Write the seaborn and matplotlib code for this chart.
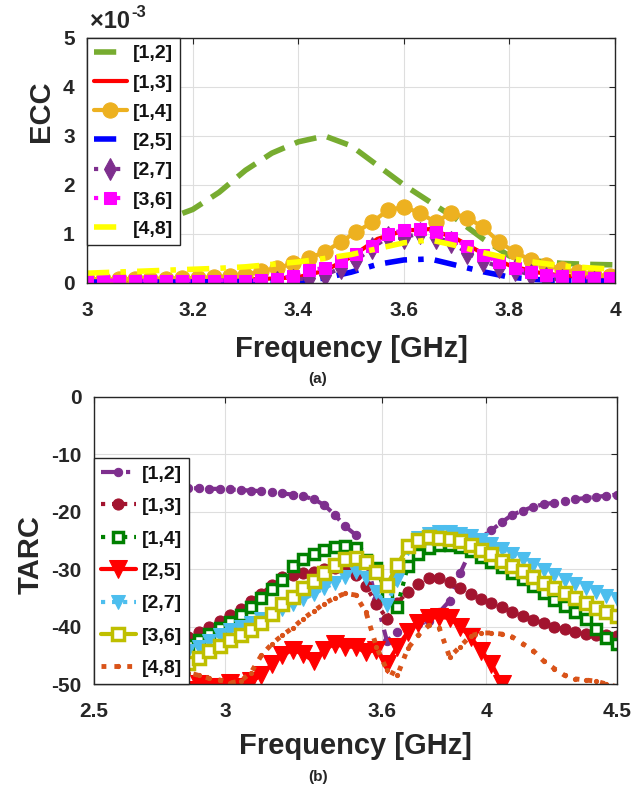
import numpy as np
import matplotlib
matplotlib.use('Agg')
import matplotlib.pyplot as plt
import seaborn as sns

# ---------------- (a) ECC data, values in units of 1e-3 ----------------
ecc_labels = ['[1,2]', '[1,3]', '[1,4]', '[2,5]', '[2,7]', '[3,6]', '[4,8]']

ecc_freq = [3.00, 3.05, 3.10, 3.15, 3.20, 3.25, 3.30, 3.35, 3.40, 3.45, 3.50,
            3.55, 3.60, 3.65, 3.70, 3.75, 3.80, 3.85, 3.90, 3.95, 4.00]
ecc_12 = [0.80, 0.95, 1.12, 1.30, 1.50, 1.85, 2.30, 2.65, 2.88, 3.00, 2.80,
          2.40, 2.00, 1.65, 1.30, 0.90, 0.55, 0.45, 0.40, 0.38, 0.37]
ecc_13 = [0.05, 0.05, 0.05, 0.05, 0.05, 0.06, 0.07, 0.09, 0.12, 0.25, 0.53,
          0.90, 1.07, 1.10, 0.90, 0.60, 0.36, 0.22, 0.15, 0.12, 0.10]
ecc_25 = [0.02, 0.02, 0.02, 0.02, 0.02, 0.03, 0.03, 0.03, 0.04, 0.10, 0.22,
          0.38, 0.47, 0.49, 0.36, 0.23, 0.12, 0.07, 0.05, 0.04, 0.04]
ecc_48 = [0.20, 0.22, 0.24, 0.26, 0.28, 0.30, 0.33, 0.38, 0.43, 0.50, 0.58,
          0.70, 0.82, 0.88, 0.76, 0.62, 0.50, 0.42, 0.35, 0.31, 0.28]

# marker series sampled more densely
ecc_freq_m = [3.00, 3.03, 3.06, 3.09, 3.12, 3.15, 3.18, 3.21, 3.24, 3.27, 3.30,
              3.33, 3.36, 3.39, 3.42, 3.45, 3.48, 3.51, 3.54, 3.57, 3.60, 3.63,
              3.66, 3.69, 3.72, 3.75, 3.78, 3.81, 3.84, 3.87, 3.90, 3.93, 3.96, 3.99]
ecc_14 = [0.08, 0.08, 0.08, 0.08, 0.09, 0.09, 0.10, 0.10, 0.12, 0.14, 0.16,
          0.25, 0.30, 0.40, 0.51, 0.63, 0.84, 1.04, 1.24, 1.49, 1.55, 1.43,
          1.24, 1.43, 1.33, 1.14, 0.84, 0.63, 0.47, 0.37, 0.28, 0.22, 0.17, 0.14]
ecc_36 = [0.05, 0.05, 0.05, 0.05, 0.05, 0.05, 0.05, 0.05, 0.05, 0.05, 0.05,
          0.06, 0.08, 0.15, 0.27, 0.30, 0.45, 0.60, 0.75, 1.00, 1.08, 1.10,
          1.05, 0.92, 0.75, 0.58, 0.42, 0.30, 0.22, 0.17, 0.14, 0.12, 0.11, 0.10]
ecc_freq_27 = [3.36, 3.39, 3.42, 3.45, 3.48, 3.51, 3.54, 3.57, 3.60, 3.63, 3.66,
               3.69, 3.72, 3.75, 3.78, 3.81, 3.84, 3.87, 3.90, 3.93, 3.96]
ecc_27 = [0.02, 0.06, 0.10, 0.16, 0.30, 0.47, 0.71, 0.94, 0.92, 1.02, 0.92,
          0.84, 0.61, 0.45, 0.33, 0.27, 0.16, 0.10, 0.06, 0.03, 0.03]

# ---------------- (b) TARC data, dB ----------------
tarc_labels = ['[1,2]', '[1,3]', '[1,4]', '[2,5]', '[2,7]', '[3,6]', '[4,8]']
tarc_freq = [2.50, 2.54, 2.58, 2.62, 2.66, 2.70, 2.74, 2.78, 2.82, 2.86, 2.90,
             2.94, 2.98, 3.02, 3.06, 3.10, 3.14, 3.18, 3.22, 3.26, 3.30, 3.34,
             3.38, 3.42, 3.46, 3.50, 3.54, 3.58, 3.62, 3.66, 3.70, 3.74, 3.78,
             3.82, 3.86, 3.90, 3.94, 3.98, 4.02, 4.06, 4.10, 4.14, 4.18, 4.22,
             4.26, 4.30, 4.34, 4.38, 4.42, 4.46, 4.50]
tarc_12 = [-15.6, -15.6, -15.7, -15.7, -15.7, -15.8, -15.8, -15.8, -15.9, -15.9, -15.9,
           -16.0, -16.0, -16.1, -16.2, -16.3, -16.4, -16.6, -16.8, -17.0, -17.3, -17.8,
           -18.8, -20.5, -22.5, -24.0, -28.5, -35.4, -42.5, -41.0, -40.2, -39.6, -39.0,
           -37.5, -35.5, -30.7, -26.8, -24.5, -23.2, -21.8, -20.5, -19.8, -19.1, -18.7,
           -18.4, -18.1, -17.8, -17.6, -17.4, -17.2, -17.0]
tarc_13 = [-47.0, -46.5, -46.0, -45.3, -44.6, -44.0, -43.4, -42.8, -42.2, -41.8, -40.9,
           -40.0, -39.1, -38.0, -37.0, -35.6, -34.3, -32.8, -31.4, -31.0, -30.7, -30.4,
           -30.0, -29.8, -29.8, -31.0, -33.0, -36.0, -38.6, -35.8, -34.0, -32.5, -31.6,
           -31.6, -32.3, -33.2, -34.3, -35.2, -35.9, -36.6, -37.4, -38.1, -38.8, -39.4,
           -40.0, -40.5, -40.9, -41.2, -41.4, -41.5, -41.7]
tarc_14 = [-50.0, -49.5, -49.0, -48.3, -47.6, -47.0, -46.3, -45.5, -44.5, -43.2, -42.3,
           -41.3, -40.3, -39.2, -38.0, -36.6, -35.0, -33.4, -31.9, -29.5, -28.2, -27.3,
           -26.6, -26.1, -25.9, -26.3, -28.4, -29.8, -34.5, -36.5, -29.5, -27.3, -26.3,
           -25.8, -25.8, -26.2, -26.8, -27.8, -28.7, -29.6, -30.6, -31.7, -32.9, -34.1,
           -35.3, -36.4, -37.4, -38.6, -40.5, -42.0, -43.0]
tarc_25 = [-52.0, -52.0, -52.0, -51.0, -51.5, -52.0, -52.0, -52.0, -51.5, -51.0, -50.0,
           -50.5, -50.5, -49.8, -50.5, -49.5, -48.5, -46.5, -45.0, -44.0, -44.8, -46.0,
           -44.0, -43.0, -43.5, -43.5, -44.5, -44.0, -46.5, -43.5, -41.0, -39.3, -38.5,
           -38.3, -38.5, -40.0, -41.8, -44.2, -46.5, -50.0, np.nan, np.nan, np.nan, np.nan,
           np.nan, np.nan, np.nan, np.nan, np.nan, np.nan, np.nan]
tarc_27 = [-50.5, -50.0, -49.5, -49.0, -48.4, -47.8, -47.1, -46.3, -45.4, -44.3, -43.6,
           -42.5, -41.4, -40.6, -40.0, -39.3, -38.6, -37.8, -37.0, -36.0, -35.2, -34.3,
           -33.3, -32.4, -31.4, -30.5, -31.5, -34.0, -36.2, -31.8, -26.3, -24.5, -23.8,
           -23.5, -23.5, -23.8, -24.2, -24.9, -25.6, -26.5, -27.4, -28.3, -29.2, -30.1,
           -31.0, -31.8, -32.6, -33.3, -34.0, -34.6, -35.2]
tarc_36 = [-53.0, -52.4, -51.8, -51.0, -50.3, -49.6, -48.8, -48.0, -47.2, -46.4, -45.5,
           -44.3, -43.3, -42.4, -41.5, -40.6, -39.4, -37.8, -36.0, -34.8, -33.3, -32.0,
           -30.6, -29.3, -28.3, -28.0, -28.8, -30.4, -32.8, -29.3, -26.0, -24.9, -24.4,
           -24.5, -24.7, -25.1, -25.8, -26.6, -27.4, -28.5, -29.4, -30.3, -31.4, -32.4,
           -33.3, -34.1, -35.0, -35.9, -36.8, -37.5, -38.2]
tarc_48 = [-52.0, -51.0, -50.5, -50.0, -49.5, -49.0, -48.5, -48.2, -48.0, -48.0, -48.5,
           -49.0, -49.3, -49.8, -49.5, -48.0, -45.0, -43.0, -41.5, -40.2, -38.6, -37.3,
           -36.0, -35.0, -34.2, -34.5, -37.5, -43.5, -47.6, -48.5, -43.8, -41.5, -39.8,
           -40.2, -45.3, -43.5, -41.6, -41.1, -41.1, -41.3, -41.8, -43.0, -44.2, -46.0,
           -47.3, -48.5, -49.1, -49.3, -49.5, -50.0, -50.5]

sns.set_theme(style='white')
plt.rcParams['font.family'] = ['Liberation Sans', 'DejaVu Sans']
plt.rcParams['font.weight'] = 'bold'
plt.rcParams['axes.unicode_minus'] = False

fig = plt.figure(figsize=(6.36, 7.94), dpi=100)
ax1 = fig.add_axes([0.137, 0.6436, 0.830, 0.3086])
ax2 = fig.add_axes([0.148, 0.1385, 0.822, 0.3615])

grid_kw = dict(color='#dedede', linewidth=0.8)

#---- plot (a)
sns.lineplot(x=ecc_freq, y=ecc_12, ax=ax1, color='#77AC30', linestyle=(0, (4, 2)),
             linewidth=4, label=ecc_labels[0])
sns.lineplot(x=ecc_freq, y=ecc_13, ax=ax1, color='#FF0000', linestyle='-',
             linewidth=3, label=ecc_labels[1])
sns.lineplot(x=ecc_freq_m, y=ecc_14, ax=ax1, color='#EDB120', linestyle='-',
             linewidth=3, marker='o', markersize=11, markerfacecolor='#EDB120',
             markeredgecolor='#EDB120', label=ecc_labels[2])
sns.lineplot(x=ecc_freq, y=ecc_25, ax=ax1, color='#0000FF', linestyle=(0, (4, 2, 1, 2)),
             linewidth=4, label=ecc_labels[3])
sns.lineplot(x=ecc_freq_27, y=ecc_27, ax=ax1, color='#7E2F8E', linestyle=':',
             linewidth=3, marker='d', markersize=11, markeredgecolor='#7E2F8E',
             label=ecc_labels[4])
sns.lineplot(x=ecc_freq_m, y=ecc_36, ax=ax1, color='#FF00FF', linestyle=':',
             linewidth=3, marker='s', markersize=9, markerfacecolor='#FF00FF',
             markeredgecolor='#FF00FF', label=ecc_labels[5])
sns.lineplot(x=ecc_freq, y=ecc_48, ax=ax1, color='#FFFF00', linestyle=(0, (4, 2, 1, 2)),
             linewidth=4, label=ecc_labels[6])

ax1.set_xlim(3, 4)
ax1.set_ylim(0, 5)
ax1.set_xticks([3, 3.2, 3.4, 3.6, 3.8, 4])
ax1.set_xticklabels(['3', '3.2', '3.4', '3.6', '3.8', '4'])
ax1.set_yticks([0, 1, 2, 3, 4, 5])
ax1.set_xlabel('Frequency [GHz]', fontsize=21, fontweight='bold', labelpad=11)
ax1.set_ylabel('ECC', fontsize=21, fontweight='bold')
ax1.yaxis.set_label_coords(-0.06, 0.70)
ax1.text(0.005, 1.02, '\u00d710', transform=ax1.transAxes, fontsize=17,
         fontweight='bold', ha='left', va='bottom', color='#262626')
ax1.text(0.083, 1.075, '-3', transform=ax1.transAxes, fontsize=12,
         fontweight='bold', ha='left', va='bottom', color='#262626')
leg1 = ax1.legend(loc='upper left', borderaxespad=0, fontsize=14, handlelength=1.7,
                  labelspacing=0.6, handletextpad=0.3, borderpad=0.35,
                  fancybox=False, framealpha=1, edgecolor='#262626')

#---- plot (b)
sns.lineplot(x=tarc_freq, y=tarc_12, ax=ax2, color='#7E2F8E', linestyle=(0, (4, 2, 1, 2)),
             linewidth=3, marker='o', markersize=6, markeredgecolor='#7E2F8E',
             label=tarc_labels[0])
sns.lineplot(x=tarc_freq, y=tarc_13, ax=ax2, color='#A2142F', linestyle=':',
             linewidth=3, marker='o', markersize=8, markeredgecolor='#A2142F',
             label=tarc_labels[1])
sns.lineplot(x=tarc_freq, y=tarc_14, ax=ax2, color='#008000', linestyle=':',
             linewidth=3, marker='s', markersize=7, markerfacecolor='white',
             markeredgecolor='#008000', markeredgewidth=2.5, label=tarc_labels[2])
sns.lineplot(x=tarc_freq, y=tarc_25, ax=ax2, color='#FF0000', linestyle='-',
             linewidth=3, marker='v', markersize=13, markeredgecolor='#FF0000',
             label=tarc_labels[3])
sns.lineplot(x=tarc_freq, y=tarc_27, ax=ax2, color='#4DBEEE', linestyle=':',
             linewidth=3, marker='v', markersize=10, markeredgecolor='#4DBEEE',
             label=tarc_labels[4])
sns.lineplot(x=tarc_freq, y=tarc_36, ax=ax2, color='#BFBF00', linestyle='-',
             linewidth=3, marker='s', markersize=8, markerfacecolor='white',
             markeredgecolor='#BFBF00', markeredgewidth=2.5, label=tarc_labels[5])
sns.lineplot(x=tarc_freq, y=tarc_48, ax=ax2, color='#D95319', linestyle=':',
             linewidth=3.5, marker='.', markersize=6, markeredgecolor='#D95319',
             label=tarc_labels[6])

ax2.set_xlim(2.5, 4.5)
ax2.set_ylim(-50, 0)
ax2.set_xticks([2.5, 3, 3.6, 4, 4.5])
ax2.set_xticklabels(['2.5', '3', '3.6', '4', '4.5'])
ax2.set_yticks([0, -10, -20, -30, -40, -50])
ax2.set_xlabel('Frequency [GHz]', fontsize=21, fontweight='bold', labelpad=8)
ax2.set_ylabel('TARC', fontsize=21, fontweight='bold')
ax2.yaxis.set_label_coords(-0.094, 0.45)
leg2 = ax2.legend(loc='lower left', borderaxespad=0, fontsize=14, handlelength=1.8,
                  labelspacing=0.76, handletextpad=0.3, borderpad=0.35,
                  fancybox=False, framealpha=1, edgecolor='#262626')

for ax in (ax1, ax2):
    ax.grid(True, **grid_kw)
    ax.set_axisbelow(True)
    for s in ax.spines.values():
        s.set_color('#262626')
        s.set_linewidth(1.0)
        s.set_visible(True)
    ax.tick_params(direction='in', length=4, width=0.8, top=True, right=True,
                   labelsize=15, colors='#262626')
    ax.tick_params(axis='x', pad=13)
    ax.tick_params(axis='y', pad=9)
    for lbl in ax.get_xticklabels() + ax.get_yticklabels():
        lbl.set_fontweight('bold')
    for leg in [ax.get_legend()]:
        leg.get_frame().set_linewidth(1.0)
        for t in leg.get_texts():
            t.set_fontweight('bold')
            t.set_color('#111111')

fig.text(0.5, 1 - 379 / 794, '(a)', ha='center', va='center', fontsize=11, fontweight='bold')
fig.text(0.5, 1 - 777 / 794, '(b)', ha='center', va='center', fontsize=11, fontweight='bold')

fig.savefig('out.png', dpi=100)
